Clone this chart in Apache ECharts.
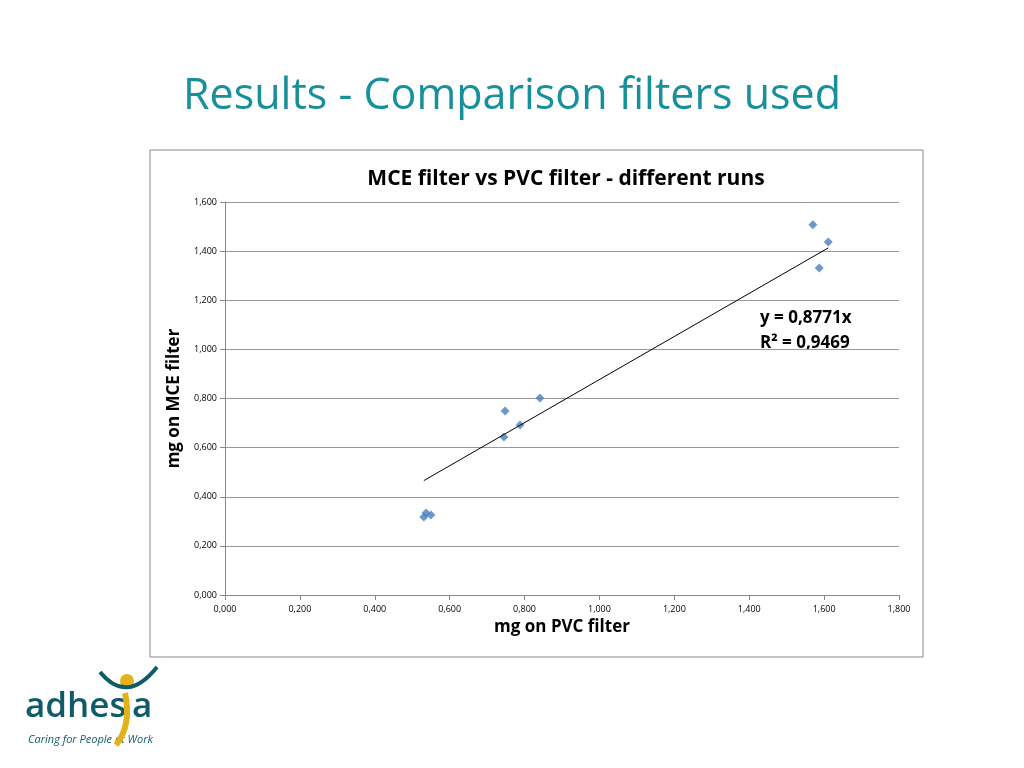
<!DOCTYPE html>
<html><head><meta charset="utf-8">
<script src="https://cdn.jsdelivr.net/npm/echarts@6/dist/echarts.min.js"></script>
<style>html,body{margin:0;padding:0;background:#fff}#c{width:1024px;height:768px}</style>
</head><body><div id="c"></div>
<script>
const pvc = [0.531,0.537,0.550,0.748,0.745,0.788,0.841,1.570,1.611,1.587];
const mce = [0.318,0.334,0.326,0.749,0.643,0.692,0.802,1.507,1.437,1.331];
const slope = 0.8771;
const xMin = Math.min(...pvc), xMax = Math.max(...pvc);
const fmtTick = v => { const [i, d] = v.toFixed(3).split('.'); return i + ',' + d; };
const chart = echarts.init(document.getElementById('c'));
chart.setOption({
  animation:false,
  title:[
    {text:'Results - Comparison filters used',left:'center',top:70,textStyle:{color:'#17909b',fontSize:43,fontWeight:'normal',fontFamily:'Open Sans'}},
    {text:'MCE filter vs PVC filter - different runs',left:561,textAlign:'center',top:164,textStyle:{color:'#000',fontSize:21,fontWeight:'bold',fontFamily:'Open Sans'}}
  ],
  graphic:[
    {type:'rect',shape:{x:150,y:150,width:773,height:507},style:{fill:'none',stroke:'#888',lineWidth:1},z:-1},
    {type:'text',x:760,y:306,style:{text:'y = 0,8771x\nR² = 0,9469',font:'bold 17px "Open Sans"',lineHeight:25,fill:'#000'}},
    {type:'text',x:25,y:690,style:{text:'adhes',font:'600 35px "Open Sans"',fill:'#0f5c68'}},
    {type:'text',x:132,y:690,style:{text:'a',font:'600 35px "Open Sans"',fill:'#0f5c68'}},
    {type:'text',x:28,y:734,style:{text:'Caring for People at Work',font:'italic 11px "Open Sans"',fill:'#0f5c68'}},
    {type:'circle',shape:{cx:127,cy:681,r:7},style:{fill:'#e3b21a'}},
    {type:'bezierCurve',shape:{x1:100,y1:672,x2:157,y2:667,cpx1:127,cpy1:705},style:{stroke:'#0f5c68',lineWidth:4,fill:null}},
    {type:'bezierCurve',shape:{x1:125,y1:693,x2:116,y2:745,cpx1:132,cpy1:725},style:{stroke:'#e3b21a',lineWidth:6,fill:null}}
  ],
  grid:{left:225,right:125,top:202,bottom:173},
  xAxis:{type:'value',min:0,max:1.8,interval:0.2,name:'mg on PVC filter',nameLocation:'middle',nameGap:24,
    nameTextStyle:{fontSize:17,fontWeight:'bold',fontFamily:'Open Sans',color:'#000'},
    axisLine:{lineStyle:{color:'#888'}},axisTick:{show:true,lineStyle:{color:'#888'}},splitLine:{show:false},
    axisLabel:{formatter:fmtTick,fontSize:9,color:'#000',fontFamily:'Open Sans',margin:10}},
  yAxis:{type:'value',min:0,max:1.6,interval:0.2,name:'mg on MCE filter',nameLocation:'middle',nameGap:42,
    nameTextStyle:{fontSize:17,fontWeight:'bold',fontFamily:'Open Sans',color:'#000'},
    axisLine:{show:true,lineStyle:{color:'#888'}},axisTick:{show:true,lineStyle:{color:'#888'}},
    splitLine:{lineStyle:{color:'#999'}},
    axisLabel:{formatter:fmtTick,fontSize:9,color:'#000',fontFamily:'Open Sans'}},
  series:[
    {type:'scatter',symbol:'diamond',symbolSize:9,itemStyle:{color:'#4a7ebb'},data:pvc.map((x,i)=>[x,mce[i]])},
    {type:'line',symbol:'none',lineStyle:{color:'#000',width:1},data:[[xMin,xMin*slope],[xMax,xMax*slope]]}
  ]
});
</script></body></html>
